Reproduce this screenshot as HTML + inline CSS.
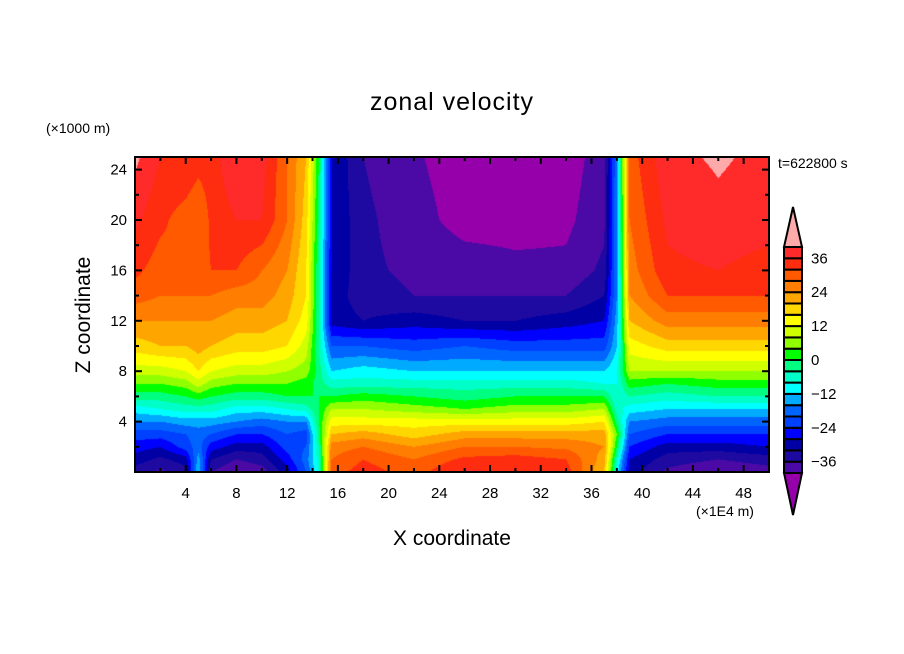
<!DOCTYPE html>
<html><head><meta charset="utf-8"><style>
body{margin:0;background:#fff;width:904px;height:654px;overflow:hidden;position:relative;font-family:"Liberation Sans",sans-serif}
.t{position:absolute;white-space:nowrap;color:#000}
</style></head><body>
<div class="t" style="left:0;width:904px;text-align:center;top:88px;font-size:25px;letter-spacing:1px">zonal velocity</div>
<div class="t" style="left:46px;top:120px;font-size:14px">(×1000 m)</div>
<div class="t" style="left:778px;top:155px;font-size:14px">t=622800 s</div>
<div class="t" style="left:696px;top:503px;font-size:14px">(×1E4 m)</div>
<div class="t" style="left:0;width:904px;text-align:center;top:527px;font-size:21px">X coordinate</div>
<div class="t" style="left:84px;top:315px;font-size:21px;transform:translate(-50%,-50%) rotate(-90deg)">Z coordinate</div>
<canvas id="cv" width="634" height="315" style="position:absolute;left:135px;top:157px"></canvas>
<svg id="sv" width="904" height="654" style="position:absolute;left:0;top:0"></svg>
<script>
const xs=[0,2,4,5,6,8,10,12,13.5,14.5,15.5,18,22,26,30,34,37,38,39,42,46,50];
const zs=[0,1,2,3,4,5,6,7,8,10,12,14,16,20,25];
const uRows=[
[-34,-37,-34,-12,-36,-40,-38,-30,-20,-8,30,34,30,37,35,34,20,-10,-30,-37,-40,-38],
[-30,-33,-30,-14,-32,-36,-34,-26,-18,-6,28,32,28,33,34,32,22,-6,-28,-34,-36,-34],
[-26,-28,-22,-18,-26,-30,-30,-22,-20,-4,26,28,24,28,28,27,24,0,-24,-30,-30,-28],
[-22,-22,-20,-18,-20,-24,-24,-20,-22,-2,20,22,18,22,22,22,22,4,-20,-24,-24,-24],
[-16,-16,-14,-14,-14,-16,-18,-16,-16,0,14,14,14,14,14,14,16,-2,-16,-18,-18,-18],
[-10,-8,-6,-6,-6,-10,-10,-8,-6,0,8,8,6,4,6,6,8,-6,-10,-12,-12,-12],
[-2,-2,0,2,0,-2,-2,0,0,0,0,2,0,-2,0,0,0,-8,-4,-6,-4,-4],
[4,4,6,10,6,4,4,4,2,-2,-6,-6,-6,-6,-6,-6,-8,-8,2,0,2,2],
[10,10,12,16,12,10,10,8,6,-2,-12,-10,-12,-12,-12,-12,-12,-8,8,8,8,8],
[18,20,20,22,20,18,18,16,10,-4,-20,-20,-22,-20,-22,-22,-22,-12,14,18,18,18],
[24,24,24,24,24,22,22,20,14,-4,-30,-32,-30,-32,-32,-30,-28,-14,20,26,26,26],
[30,28,28,28,28,26,26,22,16,-4,-30,-34,-36,-36,-36,-36,-32,-16,24,32,32,32],
[33,30,32,30,32,32,28,24,16,-4,-28,-35,-37,-38,-39,-39,-35,-16,26,35,36,34],
[37,33,30,28,33,36,36,28,18,-2,-28,-35,-38.5,-41.5,-41.5,-41,-37,-16,28,37,39,38],
[41,36,36,34,34,40,38,28,20,0,-28,-36,-39.5,-42,-42,-42,-38,-16,30,39,40.5,39]];
const levels=[-40,-36,-32,-28,-24,-20,-16,-12,-8,-4,0,4,8,12,16,20,24,28,32,36,40];
const colors=["#4b0aa5","#1e0aa0","#0000a5","#0000ff","#0040ff","#0064ff","#00aaff","#00ffff","#00ffc8","#00ff80","#00ff00","#90ff00","#d0ff00","#ffff00","#ffd700","#ffa500","#ff7d00","#ff5a00","#ff2d10","#ff2a2a"];
const lowColor="#9600aa",highColor="#ffaaaa";
const xTicks=[4,8,12,16,20,24,28,32,36,40,44,48];
const zTicks=[4,8,12,16,20,24];
const cbLabels=[36,24,12,0,-12,-24,-36];

const X0=135,X1=769,Z0=472,ZT=157,ZMAX=25;
const sx=x=>X0+(X1-X0)*x/50, sz=z=>Z0-(Z0-ZT)*z/ZMAX;
function seg(a,v){let i=0;while(i<a.length-2&&v>a[i+1])i++;return [i,(v-a[i])/(a[i+1]-a[i])];}
function val(x,z){const [i,fx]=seg(xs,x),[j,fz]=seg(zs,z);
 const a=uRows[j][i],b=uRows[j][i+1],c=uRows[j+1][i],d=uRows[j+1][i+1];
 return (a*(1-fx)+b*fx)*(1-fz)+(c*(1-fx)+d*fx)*fz;}
function hex(h){return [1,3,5].map(k=>parseInt(h.substr(k,2),16));}
const rgb=colors.map(hex),lo=hex(lowColor),hi=hex(highColor);
function colorOf(u){if(u<levels[0])return lo;if(u>=levels[levels.length-1])return hi;
 for(let k=0;k<levels.length-1;k++)if(u<levels[k+1])return rgb[k];return hi;}
const cv=document.getElementById('cv'),ctx=cv.getContext('2d'),W=cv.width,H=cv.height;
const img=ctx.createImageData(W,H);
for(let py=0;py<H;py++){const z=(Z0-(ZT+py+0.5))/(Z0-ZT)*ZMAX;
 for(let px=0;px<W;px++){const x=(px+0.5)/(X1-X0)*50;const c=colorOf(val(x,Math.max(0,z)));
  const o=(py*W+px)*4;img.data[o]=c[0];img.data[o+1]=c[1];img.data[o+2]=c[2];img.data[o+3]=255;}}
ctx.putImageData(img,0,0);

const sv=document.getElementById('sv'),NS="http://www.w3.org/2000/svg";
function el(t,a,p){const e=document.createElementNS(NS,t);for(const k in a)e.setAttribute(k,a[k]);(p||sv).appendChild(e);return e;}
let e=el('rect',{x:X0,y:ZT,width:X1-X0,height:Z0-ZT,fill:'none',stroke:'#000','stroke-width':2});


for(let x=2;x<50;x+=2){const L=x%4===0?7:4;
 el('line',{x1:sx(x),x2:sx(x),y1:Z0,y2:Z0-L,stroke:'#000','stroke-width':2});
 el('line',{x1:sx(x),x2:sx(x),y1:ZT,y2:ZT+L,stroke:'#000','stroke-width':2});}
for(let z=2;z<25;z+=2){const L=z%4===0?7:4;
 el('line',{x1:X0,x2:X0+L,y1:sz(z),y2:sz(z),stroke:'#000','stroke-width':2});
 el('line',{x1:X1,x2:X1-L,y1:sz(z),y2:sz(z),stroke:'#000','stroke-width':2});}
xTicks.forEach(v=>{const t=el('text',{x:sx(v),y:498,'text-anchor':'middle','font-size':15,'font-family':'Liberation Sans'});t.textContent=v;
 
 });
zTicks.forEach(v=>{const t=el('text',{x:127,y:sz(v)+5,'text-anchor':'end','font-size':15,'font-family':'Liberation Sans'});t.textContent=v;
 
 });
const CBX=784,CBW=18,CBT=247,CBB=473,n=colors.length,bh=(CBB-CBT)/n;
for(let k=0;k<n;k++){const r=el('rect',{x:CBX,y:CBB-(k+1)*bh,width:CBW,height:bh,fill:colors[k],stroke:'#000','stroke-width':2});
 
 }
e=el('polygon',{points:`${CBX},${CBT} ${CBX+CBW},${CBT} ${CBX+CBW/2},207`,fill:highColor,stroke:'#000','stroke-width':2});


e=el('polygon',{points:`${CBX},${CBB} ${CBX+CBW},${CBB} ${CBX+CBW/2},515`,fill:lowColor,stroke:'#000','stroke-width':2});


cbLabels.forEach(v=>{const k=levels.indexOf(v);const y=CBB-k*bh;
 const t=el('text',{x:811,y:y+5,'font-size':15,'font-family':'Liberation Sans'});t.textContent=v<0?'\u2212'+(-v):v;
 
 });
</script>
</body></html>
